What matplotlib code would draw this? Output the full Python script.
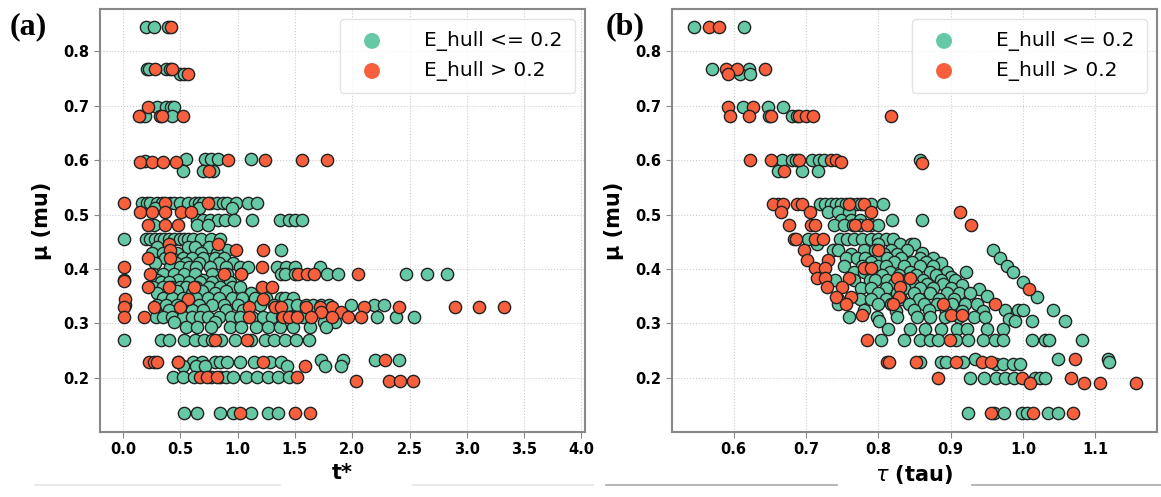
import matplotlib
matplotlib.use("Agg")
import matplotlib.pyplot as plt
from matplotlib.lines import Line2D

# panel (a): (t*, mu) points
a_green = [
    (0.20, .845), (0.27, .845), (0.39, .845),
    (0.21, .767), (0.23, .767), (0.38, .767), (0.41, .767), (0.50, .758), (0.53, .758),
    (0.30, .698), (0.38, .698), (0.42, .698), (0.45, .698), (0.16, .682), (0.19, .682), (0.43, .682),
    (0.19, .598), (0.55, .603), (0.72, .603), (0.77, .603), (0.83, .603), (1.12, .603),
    (0.52, .58), (0.70, .58), (0.79, .58),
    (0.17, .522), (0.21, .522), (0.24, .522), (0.30, .522), (0.34, .522), (0.41, .522), (0.45, .522),
    (0.50, .522), (0.57, .522), (0.63, .522), (0.66, .522), (0.70, .522), (0.76, .522), (0.82, .522),
    (0.87, .522), (0.91, .522), (0.99, .522), (1.09, .522), (1.17, .522),
    (0.28, .512), (0.66, .512), (0.95, .512),
    (0.65, .49), (0.70, .49), (0.76, .49), (0.83, .49), (0.89, .49), (0.97, .49), (1.13, .49),
    (1.37, .49), (1.45, .49), (1.50, .49), (1.56, .49),
    (0.27, .48), (0.65, .48), (0.74, .48),
    (0.01, .455), (0.20, .455), (0.24, .455), (0.28, .455), (0.32, .455), (0.36, .455), (0.40, .455),
    (0.45, .455), (0.50, .455), (0.53, .455), (0.57, .455), (0.61, .455), (0.68, .455), (0.77, .455),
    (0.85, .455), (0.30, .44), (0.57, .44), (0.63, .44), (0.75, .44), (0.91, .435), (1.38, .435),
    (0.25, .43), (0.35, .43), (0.47, .43), (0.68, .43), (0.82, .43),
    (0.37, .42), (0.43, .42), (0.52, .42), (0.60, .42), (0.70, .42), (0.80, .42), (0.88, .42),
    (0.28, .41), (0.46, .41), (0.55, .41), (0.66, .41), (0.84, .41), (0.96, .41),
    (0.41, .404), (0.50, .404), (0.58, .404), (0.64, .404), (0.76, .404), (0.90, .404), (1.02, .404),
    (1.09, .404), (1.34, .404), (1.42, .404), (1.50, .404), (1.72, .404),
    (0.26, .39), (0.35, .39), (0.45, .39), (0.53, .39), (0.63, .39), (0.78, .39), (0.91, .39),
    (1.03, .39), (1.38, .39), (1.41, .39), (1.50, .39), (1.78, .39), (1.88, .39), (2.47, .39),
    (2.65, .39), (2.83, .39),
    (0.01, .38), (0.30, .38), (0.48, .38), (0.70, .38), (0.85, .38),
    (0.33, .375), (0.40, .375), (0.58, .375), (0.67, .375), (0.78, .375), (0.93, .375),
    (0.26, .367), (0.35, .367), (0.43, .367), (0.50, .367), (0.55, .367), (0.64, .367), (0.75, .367),
    (0.85, .367), (0.95, .367), (1.02, .367),
    (0.30, .355), (0.42, .355), (0.60, .355), (0.80, .355), (1.12, .355),
    (0.47, .36), (0.69, .36), (0.90, .36),
    (0.35, .347), (0.43, .347), (0.52, .347), (0.64, .347), (0.74, .347), (0.84, .347), (0.95, .347),
    (1.04, .347), (1.15, .347), (1.25, .347), (1.38, .347), (1.41, .347), (1.48, .347),
    (0.02, .334), (0.30, .334), (0.38, .334), (0.47, .334), (0.56, .334), (0.66, .334), (0.78, .334),
    (0.88, .334), (1.00, .334), (1.20, .334), (1.32, .334), (1.44, .334), (1.52, .334), (1.60, .334),
    (1.66, .334), (1.73, .334), (1.80, .334), (1.99, .334), (2.19, .334), (2.28, .334),
    (0.40, .325), (0.60, .325), (0.70, .325), (0.90, .325), (1.05, .325),
    (0.29, .312), (0.35, .312), (0.43, .312), (0.52, .312), (0.60, .312), (0.67, .312), (0.74, .312),
    (0.84, .312), (0.94, .312), (1.02, .312), (1.13, .312), (1.22, .312), (1.30, .312), (1.39, .312),
    (1.49, .312), (1.57, .312), (2.22, .312), (2.38, .312), (2.54, .312),
    (0.45, .303), (0.80, .303), (1.75, .303), (1.85, .303),
    (0.55, .294), (0.65, .294), (0.77, .294), (0.93, .294), (1.03, .294), (1.16, .294), (1.27, .294),
    (1.37, .294), (1.48, .294), (1.63, .294), (1.77, .294),
    (0.01, .27), (0.33, .27), (0.40, .27), (0.53, .27), (0.63, .27), (0.71, .27), (0.78, .27),
    (0.86, .27), (0.98, .27), (1.12, .27), (1.24, .27), (1.32, .27), (1.41, .27), (1.51, .27),
    (1.62, .27),
    (0.48, .228), (0.61, .228), (0.69, .228), (0.80, .228), (0.85, .228), (0.91, .228), (1.02, .228),
    (1.14, .228), (1.28, .228), (1.38, .228), (1.73, .232), (1.92, .232), (2.20, .232), (2.41, .232),
    (0.52, .222), (0.64, .222), (0.72, .222), (1.43, .222), (1.76, .222), (1.90, .222),
    (0.44, .202), (0.52, .202), (0.62, .202), (0.77, .202), (0.85, .202), (0.90, .202), (0.96, .202),
    (1.07, .202), (1.17, .202), (1.27, .202), (1.35, .202), (1.45, .202),
    (0.53, .135), (0.65, .135), (0.85, .135), (0.96, .135), (1.12, .135), (1.27, .135), (1.35, .135),
]
a_red = [
    (0.42, .845), (0.28, .767), (0.43, .767), (0.57, .758), (0.22, .698),
    (0.14, .682), (0.32, .682), (0.34, .682), (0.52, .682),
    (0.15, .596), (0.25, .596), (0.35, .596), (0.46, .596), (0.92, .601), (1.24, .601), (1.56, .601),
    (1.78, .601), (0.75, .58),
    (0.01, .522), (0.37, .522), (0.74, .522),
    (0.15, .505), (0.25, .505), (0.37, .505), (0.51, .505), (0.59, .505),
    (0.22, .48), (0.37, .48), (0.48, .48), (0.40, .445), (0.83, .445),
    (0.41, .435), (0.99, .435), (1.22, .435), (0.22, .42), (0.41, .42), (0.01, .404), (1.21, .404),
    (0.24, .39), (0.88, .39), (1.03, .39), (1.53, .39), (1.61, .39), (1.67, .39), (2.05, .39),
    (0.01, .378), (0.22, .367), (0.40, .367), (0.62, .367), (1.21, .367), (1.30, .367),
    (0.02, .345), (0.57, .345), (1.22, .345),
    (0.01, .33), (0.27, .33), (0.50, .33), (1.10, .33), (1.33, .33), (1.38, .33), (1.60, .33),
    (1.72, .33), (1.82, .33), (2.10, .33), (2.41, .33), (2.90, .33), (3.11, .33), (3.32, .33),
    (1.73, .32), (1.90, .32),
    (0.01, .312), (0.18, .312), (1.10, .312), (1.40, .312), (1.45, .312), (1.52, .312), (1.64, .312),
    (1.82, .312), (1.96, .312), (2.08, .312),
    (0.80, .27), (1.08, .27),
    (0.23, .228), (0.27, .228), (0.30, .228), (0.48, .228), (1.22, .228), (2.29, .232), (1.59, .222),
    (0.67, .202), (0.73, .202), (0.82, .202), (1.52, .202),
    (2.03, .193), (2.32, .193), (2.42, .193), (2.53, .193),
    (1.02, .135), (1.50, .135), (1.63, .135),
]

# panel (b): (tau, mu) points
b_green = [
    (0.546, .845), (0.615, .845), (0.570, .767), (0.622, .767), (0.609, .758), (0.623, .758),
    (0.613, .698), (0.648, .698), (0.669, .698), (0.649, .682), (0.681, .682), (0.688, .682),
    (0.667, .60), (0.681, .60), (0.686, .60), (0.709, .60), (0.718, .60), (0.725, .60), (0.858, .60),
    (0.661, .58), (0.694, .58), (0.717, .58),
    (0.662, .52), (0.720, .52), (0.727, .52), (0.734, .52), (0.741, .52), (0.748, .52), (0.755, .52),
    (0.762, .52), (0.770, .52), (0.776, .52), (0.790, .52), (0.806, .52),
    (0.730, .505), (0.745, .505), (0.760, .505),
    (0.749, .49), (0.762, .49), (0.775, .49), (0.819, .49), (0.861, .49),
    (0.739, .48), (0.752, .48), (0.765, .48), (0.775, .48), (0.790, .48), (0.800, .48),
    (0.703, .455), (0.747, .455), (0.757, .455), (0.767, .455), (0.778, .455), (0.790, .455),
    (0.800, .455), (0.810, .455), (0.820, .455),
    (0.715, .445), (0.800, .445), (0.830, .445), (0.845, .445), (0.850, .445),
    (0.738, .435), (0.745, .435), (0.780, .435), (0.795, .435), (0.818, .435), (0.840, .435), (0.959, .434),
    (0.762, .428), (0.808, .428), (0.826, .428), (0.860, .43),
    (0.755, .42), (0.770, .42), (0.782, .42), (0.800, .42), (0.812, .42), (0.832, .42), (0.858, .42),
    (0.876, .42), (0.968, .42),
    (0.790, .412), (0.822, .412), (0.846, .412), (0.866, .412), (0.886, .41),
    (0.752, .405), (0.778, .405), (0.800, .405), (0.810, .405), (0.835, .405), (0.858, .405),
    (0.876, .405), (0.978, .405),
    (0.766, .395), (0.780, .395), (0.816, .395), (0.844, .395), (0.872, .395), (0.895, .395),
    (0.921, .394), (0.986, .395),
    (0.805, .388), (0.828, .388), (0.852, .388), (0.880, .388), (0.900, .385),
    (0.740, .38), (0.766, .38), (0.788, .38), (0.796, .38), (0.812, .38), (0.839, .38), (0.862, .38),
    (0.887, .38), (0.906, .38), (1.000, .376),
    (0.822, .372), (0.848, .372), (0.868, .372), (0.890, .372), (0.915, .37),
    (0.776, .365), (0.790, .365), (0.810, .365), (0.835, .365), (0.858, .365), (0.875, .365),
    (0.900, .365), (0.939, .363),
    (0.800, .356), (0.826, .356), (0.849, .356), (0.872, .356), (0.895, .356), (0.911, .356),
    (0.927, .356), (0.950, .35),
    (0.745, .345), (0.775, .345), (0.790, .345), (0.810, .345), (0.832, .345), (1.019, .349),
    (0.856, .345), (0.884, .345), (0.905, .345),
    (0.745, .335), (0.800, .335), (0.817, .335), (0.843, .335), (0.863, .335), (0.881, .335),
    (0.902, .335), (0.920, .335), (0.936, .335),
    (0.780, .325), (0.850, .325), (0.870, .325), (0.975, .325), (0.993, .325), (1.000, .325), (1.041, .325),
    (0.824, .322), (0.893, .322), (0.915, .322), (0.945, .322),
    (0.759, .312), (0.798, .312), (0.826, .312), (0.853, .312), (0.872, .312), (0.892, .312),
    (0.911, .312), (0.932, .312), (0.948, .312),
    (0.801, .305), (0.981, .307), (0.989, .305), (1.013, .305), (1.058, .305),
    (0.814, .29), (0.844, .29), (0.865, .29), (0.886, .29), (0.909, .29), (0.922, .29), (0.950, .29),
    (0.973, .29),
    (0.804, .27), (0.835, .27), (0.858, .27), (0.872, .27), (0.883, .27), (0.908, .27), (0.924, .27),
    (0.945, .27), (0.961, .27), (0.972, .27), (1.012, .27), (1.030, .27), (1.036, .27), (1.081, .27),
    (0.934, .234), (1.048, .234), (1.117, .234),
    (0.858, .228), (0.886, .228), (0.893, .228), (0.917, .228), (0.963, .225), (0.973, .225),
    (0.986, .225), (0.996, .225), (1.119, .228),
    (0.927, .20), (0.946, .20), (0.962, .20), (0.975, .20), (0.988, .20), (1.017, .20), (1.024, .20),
    (1.031, .20),
    (0.924, .135), (0.960, .135), (0.974, .135), (0.998, .135), (1.006, .135), (1.035, .135), (1.048, .135),
]
b_red = [
    (0.566, .845), (0.580, .845), (0.589, .767), (0.605, .767), (0.643, .767), (0.593, .758),
    (0.592, .698), (0.627, .698),
    (0.595, .682), (0.622, .682), (0.652, .682), (0.690, .682), (0.700, .682), (0.710, .682), (0.818, .682),
    (0.623, .60), (0.652, .60), (0.690, .60), (0.735, .60), (0.742, .60), (0.748, .597), (0.860, .595),
    (0.670, .58),
    (0.654, .52), (0.669, .52), (0.688, .52), (0.695, .52), (0.760, .52), (0.780, .52),
    (0.665, .505), (0.706, .505), (0.790, .505), (0.913, .505),
    (0.676, .48), (0.707, .48), (0.712, .48), (0.768, .48), (0.785, .48), (0.928, .48),
    (0.684, .455), (0.686, .455), (0.712, .455), (0.724, .455), (0.697, .435), (0.800, .435),
    (0.702, .417), (0.730, .417), (0.712, .402), (0.726, .402), (0.780, .402), (0.790, .402),
    (0.715, .384), (0.727, .384), (0.760, .384), (0.826, .384), (0.844, .384),
    (0.729, .367), (0.750, .367), (0.830, .367),
    (0.742, .349), (0.762, .349), (0.828, .349), (1.008, .363),
    (0.755, .335), (0.820, .335), (0.890, .335), (0.961, .335),
    (0.778, .316), (0.900, .316), (0.915, .316),
    (0.784, .27), (0.899, .27),
    (0.812, .228), (0.815, .228), (0.852, .228), (0.908, .228), (0.943, .228), (0.956, .228), (1.072, .234),
    (0.883, .20), (0.999, .20), (1.066, .20),
    (1.010, .19), (1.084, .19), (1.106, .19), (1.156, .19),
    (0.956, .135), (1.014, .135), (1.069, .135),
]

green = "#66c9a6"
red = "#f8603d"

fig = plt.figure(figsize=(11.61, 4.97), dpi=100)
ax1 = fig.add_axes([0.0861, 0.1308, 0.4177, 0.851])
ax2 = fig.add_axes([0.5788, 0.1308, 0.4177, 0.851])

panels = [(ax1, a_green, a_red, "t*", (-0.2, 4.03), [0, 0.5, 1, 1.5, 2, 2.5, 3, 3.5, 4]),
          (ax2, b_green, b_red, r"$\tau$ (tau)", (0.515, 1.185), [0.6, 0.7, 0.8, 0.9, 1.0, 1.1])]

for ax, g, r, xlab, xlim, xt in panels:
    gx, gy = zip(*g)
    rx, ry = zip(*r)
    ax.scatter(gx, gy, s=78, c=green, edgecolors="#222222", linewidths=1.0, label="E_hull <= 0.2", zorder=3)
    ax.scatter(rx, ry, s=78, c=red, edgecolors="#222222", linewidths=1.0, label="E_hull > 0.2", zorder=3)
    ax.set_xlim(*xlim)
    ax.set_ylim(0.1, 0.878)
    ax.set_xticks(xt)
    ax.set_xticklabels(["%.1f" % v for v in xt])
    ax.set_yticks([0.2, 0.3, 0.4, 0.5, 0.6, 0.7, 0.8])
    ax.grid(True, color="#cccccc", linestyle=":", linewidth=0.8, zorder=0)
    for sp in ax.spines.values():
        sp.set_color("#888888")
        sp.set_linewidth(1.5)
    ax.tick_params(colors="#888888", labelcolor="black", labelsize=10.5, length=4)
    for lb in ax.get_xticklabels() + ax.get_yticklabels():
        lb.set_fontweight("bold")
    ax.set_xlabel(xlab, fontsize=15, fontweight="bold", labelpad=4)
    ax.set_ylabel("μ (mu)", fontsize=15, fontweight="bold", labelpad=8)
    leg = ax.legend(loc="upper right", fontsize=14.5, markerscale=1.3, handletextpad=1.6,
                    borderpad=0.6, labelspacing=0.5, frameon=True, fancybox=True)
    for h in leg.legend_handles:
        h.set_edgecolor("none")
    leg.get_frame().set_edgecolor("#dddddd")

fig.text(0.008, 0.975, "(a)", fontsize=23, fontweight="bold", family="Liberation Serif", va="top")
fig.text(0.522, 0.975, "(b)", fontsize=23, fontweight="bold", family="Liberation Serif", va="top")

# thin rules beside the x labels
for x0, x1, col in [(35, 280, "#e6e6e6"), (413, 593, "#e6e6e6"), (606, 837, "#aaaaaa"), (972, 1161, "#aaaaaa")]:
    fig.add_artist(Line2D([x0 / 1161, x1 / 1161], [1 - 485 / 497] * 2, color=col, lw=1.2))

plt.savefig("out.png", dpi=100)
